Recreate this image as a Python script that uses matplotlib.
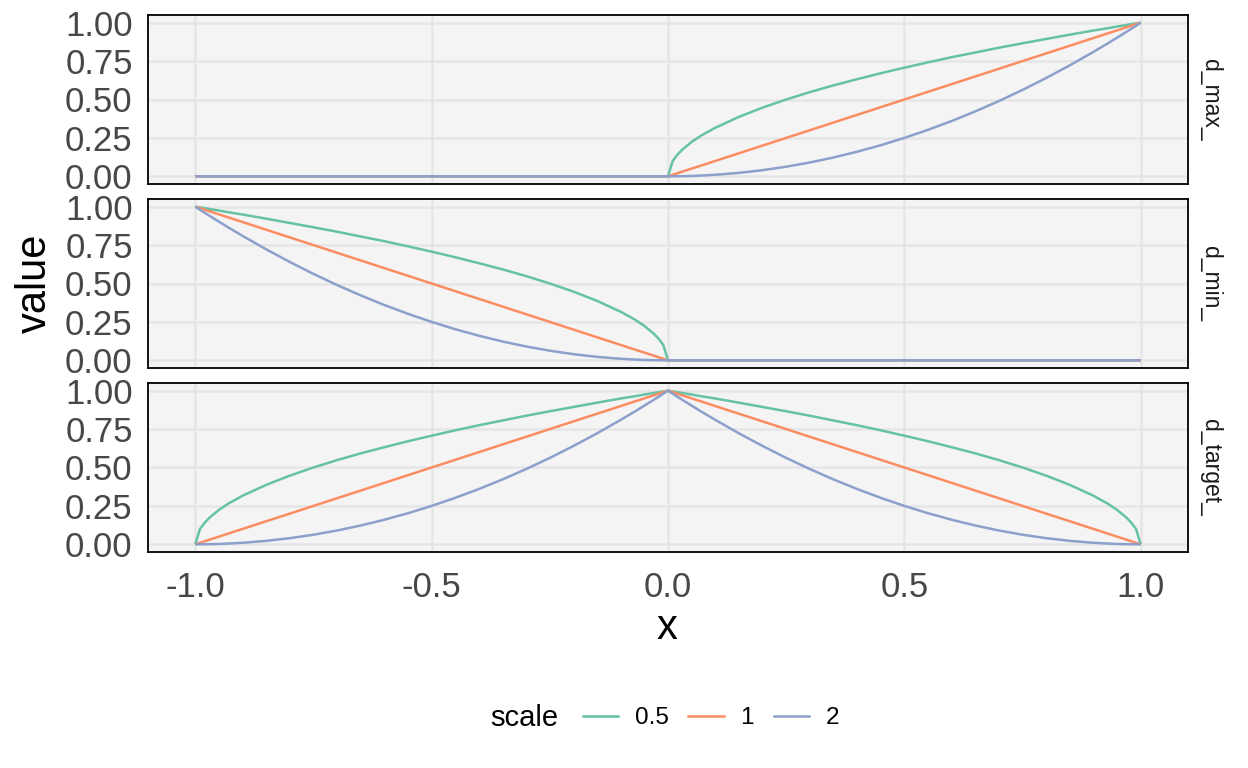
import numpy as np
import matplotlib
matplotlib.use("Agg")
import matplotlib.pyplot as plt
from matplotlib.lines import Line2D

plt.rcParams['font.family'] = ['Liberation Sans', 'DejaVu Sans']

# half-profile grid (distance into the active region)
u = [0.0, 0.01, 0.02, 0.03, 0.05, 0.07, 0.10, 0.15, 0.20, 0.25, 0.30, 0.35, 0.40, 0.45, 0.50,
     0.55, 0.60, 0.65, 0.70, 0.75, 0.80, 0.85, 0.90, 0.93, 0.95, 0.97, 0.98, 0.99, 1.0]
# rising profiles per scale
rise_05 = [0.0, 0.100, 0.141, 0.173, 0.224, 0.265, 0.316, 0.387, 0.447, 0.500, 0.548, 0.592,
           0.632, 0.671, 0.707, 0.742, 0.775, 0.806, 0.837, 0.866, 0.894, 0.922, 0.949,
           0.964, 0.975, 0.985, 0.990, 0.995, 1.0]
rise_1 = [0.0, 0.01, 0.02, 0.03, 0.05, 0.07, 0.10, 0.15, 0.20, 0.25, 0.30, 0.35, 0.40, 0.45,
          0.50, 0.55, 0.60, 0.65, 0.70, 0.75, 0.80, 0.85, 0.90, 0.93, 0.95, 0.97, 0.98, 0.99, 1.0]
rise_2 = [0.0, 0.0001, 0.0004, 0.0009, 0.0025, 0.0049, 0.01, 0.0225, 0.04, 0.0625, 0.09, 0.1225,
          0.16, 0.2025, 0.25, 0.3025, 0.36, 0.4225, 0.49, 0.5625, 0.64, 0.7225, 0.81, 0.865,
          0.9025, 0.941, 0.960, 0.98, 1.0]

scales = ["0.5", "1", "2"]
colors = ["#66C2A5", "#FC8D62", "#8DA0CB"]
panels = ["d_max_", "d_min_", "d_target_"]
y_ticks = [0.0, 0.25, 0.5, 0.75, 1.0]
y_ticklabels = ["0.00", "0.25", "0.50", "0.75", "1.00"]
x_ticks = [-1.0, -0.5, 0.0, 0.5, 1.0]
x_ticklabels = ["-1.0", "-0.5", "0.0", "0.5", "1.0"]

ua = np.array(u)
n = len(ua)
x_full = np.concatenate([-ua[::-1], ua[1:]])


def panel_values(name, r):
    r = np.array(r)
    if name == "d_max_":
        return np.concatenate([np.zeros(n), r[1:]])
    if name == "d_min_":
        return np.concatenate([r[::-1], np.zeros(n - 1)])
    return np.concatenate([r, r[::-1][1:]])


W, H = 1248, 768
fig = plt.figure(figsize=(W / 100, H / 100), dpi=100)
left, right = 148, 1188
tops = [15, 199, 383]
ph = 169
bg = "#F4F4F4"
gridc = "#E6E6E6"
tick_col = "#474747"

for i, name in enumerate(panels):
    ax = fig.add_axes([left / W, 1 - (tops[i] + ph) / H, (right - left) / W, ph / H])
    ax.set_facecolor(bg)
    for r, c in zip([rise_05, rise_1, rise_2], colors):
        ax.plot(x_full, panel_values(name, r), color=c, lw=1.8, solid_capstyle='butt', zorder=3)
    ax.set_xlim(-1.1, 1.1)
    ax.set_ylim(-0.05, 1.05)
    ax.set_yticks(y_ticks)
    ax.set_yticklabels(y_ticklabels)
    ax.set_xticks(x_ticks)
    ax.grid(True, color=gridc, lw=1.8, zorder=0)
    ax.set_axisbelow(True)
    ax.tick_params(axis='y', length=0, pad=11, labelsize=25, labelcolor=tick_col)
    if i < 2:
        ax.tick_params(axis='x', length=0, labelbottom=False)
    else:
        ax.set_xticklabels(x_ticklabels)
        ax.tick_params(axis='x', length=0, pad=14, labelsize=25, labelcolor=tick_col)
    for s in ax.spines.values():
        s.set_color("black")
        s.set_linewidth(1.3)
    ax.text(1 + 22 / (right - left), 0.5, name, transform=ax.transAxes, rotation=-90,
            ha='center', va='center', fontsize=16.5, color="#1A1A1A")

fig.text(35 / W, 1 - 283 / H, "value", rotation=90, ha='center', va='center', fontsize=30)
fig.text(667 / W, 1 - 628 / H, "x", ha='center', va='center', fontsize=30)

fig.text(524 / W, 1 - 718 / H, "scale", ha='center', va='center', fontsize=21)
handles = [Line2D([], [], color=c, lw=1.8) for c in colors]
fig.legend(handles, scales, loc='center', bbox_to_anchor=(711 / W, 1 - 718 / H),
           ncol=3, frameon=False, fontsize=17.5, handlelength=1.45, handletextpad=0.7,
           columnspacing=0.8, borderpad=0, borderaxespad=0)

fig.savefig("out.png", dpi=100)
